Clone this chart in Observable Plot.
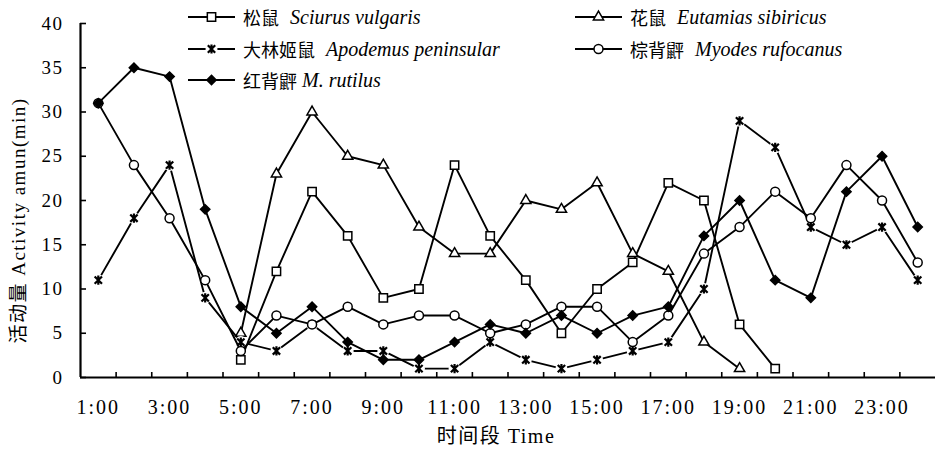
<!DOCTYPE html>
<html><head><meta charset="utf-8">
<script src="https://cdn.jsdelivr.net/npm/d3@7"></script>
<script src="https://cdn.jsdelivr.net/npm/@observablehq/plot@0.6"></script>
<style>
body{margin:0;background:#fff;}
#wrap{position:relative;width:935px;height:455px;}
.item{position:absolute;height:22px;display:flex;align-items:center;white-space:nowrap;color:#000;}
.item svg{display:block;}
.cn{font-family:"Noto Sans CJK SC";font-size:18px;margin-left:8px;}
.la{font-family:"Liberation Serif";font-style:italic;font-size:20px;}
g[aria-label="x-axis tick label"] text{letter-spacing:2px;}
g[aria-label="y-axis tick label"] text{letter-spacing:1.5px;}
.ttl{letter-spacing:1.5px;}
</style></head>
<body><div id="wrap"></div>
<script>
// ---- data ----
const hours = [1,2,3,4,5,6,7,8,9,10,11,12,13,14,15,16,17,18,19,20,21,22,23,24];
const sciurus   = [null,null,null,null,2,12,21,16,9,10,24,16,11,5,10,13,22,20,6,1,null,null,null,null];
const eutamias  = [null,null,null,null,5,23,30,25,24,17,14,14,20,19,22,14,12,4,1,null,null,null,null,null];
const apodemus  = [11,18,24,9,4,3,6,3,3,1,1,4,2,1,2,3,4,10,29,26,17,15,17,11];
const rufocanus = [31,24,18,11,3,7,6,8,6,7,7,5,6,8,8,4,7,14,17,21,18,24,20,13];
const rutilus   = [31,35,34,19,8,5,8,4,2,2,4,6,5,7,5,7,8,16,20,11,9,21,25,17];
const yTicks = [0,5,10,15,20,25,30,35,40];
const xLabelTicks = [1,3,5,7,9,11,13,15,17,19,21,23];
const xMarkTicks = [1.5,2.5,3.5,4.5,5.5,6.5,7.5,8.5,9.5,10.5,11.5,12.5,13.5,14.5,15.5,16.5,17.5,18.5,19.5,20.5,21.5,22.5,23.5];
const xTitle = "时间段 Time";
const yTitle = "活动量 Activity amun(min)";

// Excel-like star marker: X plus vertical bar
const star = {draw(ctx, size){const r=Math.sqrt(size/Math.PI);const d=r*0.8;
  ctx.moveTo(-d,-d);ctx.lineTo(d,d);ctx.moveTo(d,-d);ctx.lineTo(-d,d);ctx.moveTo(0,-r);ctx.lineTo(0,r);}};

const seriesDefs = [
  {cn:"松鼠", la:"Sciurus vulgaris", vals:sciurus, symbol:"square", r:4.7, fill:"#fff", gap:11, sw:1.5},
  {cn:"花鼠", la:"Eutamias sibiricus", vals:eutamias, symbol:"triangle", r:3.8, fill:"#fff", gap:11, sw:1.5},
  {cn:"大林姬鼠", la:"Apodemus peninsular", vals:apodemus, symbol:star, r:4.6, fill:"none", gap:11, halo:true, sw:2.2},
  {cn:"棕背䶄", la:"Myodes rufocanus", vals:rufocanus, symbol:"circle", r:4.5, fill:"#fff", gap:11, sw:1.5},
  {cn:"红背䶄", la:"M. rutilus", vals:rutilus, symbol:"diamond2", r:4.2, fill:"#000", gap:5, sw:1.5}
];

const marks = [];
seriesDefs.forEach(s => {
  const pts = hours.map((h,i)=>({hour:h, value:s.vals[i]})).filter(d=>d.value!=null);
  marks.push(Plot.line(pts,{x:"hour",y:"value",stroke:"#000",strokeWidth:1.9}));
  if (s.halo) marks.push(Plot.dot(pts,{x:"hour",y:"value",r:6,fill:"#fff",stroke:"none"}));
  marks.push(Plot.dot(pts,{x:"hour",y:"value",symbol:s.symbol,r:s.r,fill:s.fill,stroke:"#000",strokeWidth:s.sw}));
});

const plot = Plot.plot({
  width:935, height:455,
  marginLeft:80, marginRight:0, marginTop:23, marginBottom:78,
  style:{fontFamily:'"Liberation Serif","Noto Sans CJK SC",serif', background:"#fff", color:"#000", overflow:"visible"},
  x:{domain:[0.5,24.5]},
  y:{domain:[0,40]},
  marks:[
    Plot.axisY({ticks:yTicks, tickSize:0, tickPadding:17, fontSize:19, label:null}),
    Plot.axisY({ticks:yTicks, tickSize:-6, tickFormat:()=>"", label:null, strokeWidth:1.6}),
    Plot.axisX({ticks:xLabelTicks, tickSize:0, tickPadding:22, fontSize:20, tickFormat:d=>d+":00", label:null}),
    Plot.axisX({ticks:xMarkTicks, tickSize:-5, tickFormat:()=>"", label:null, strokeWidth:1.6}),
    Plot.ruleY([0],{strokeWidth:2.2}),
    Plot.ruleX([0.5],{strokeWidth:2.2}),
    Plot.text([xTitle],{frameAnchor:"bottom", textAnchor:"middle", dx:-12, dy:65, fontSize:20, className:"ttl"}),
    Plot.text([yTitle],{frameAnchor:"left", textAnchor:"middle", rotate:-90, dx:-62, dy:20, fontSize:19, className:"ttl"}),
    ...marks
  ]
});
const wrap = document.getElementById("wrap");
wrap.appendChild(plot);

// ---- legend (HTML overlay) ----
const cols = [188, 575];
const rows = [17, 49, 80];
const order = [[0,0],[1,0],[0,1],[1,1],[0,2]]; // [col,row] per series
function swatch(s){
  const svg = d3.create("svg").attr("width",47).attr("height",16);
  svg.append("line").attr("x1",0).attr("x2",47).attr("y1",8).attr("y2",8).attr("stroke","#000").attr("stroke-width",1.9);
  const sym = typeof s.symbol === "string" ? {square:d3.symbolSquare,triangle:d3.symbolTriangle,circle:d3.symbolCircle,diamond2:d3.symbolDiamond2}[s.symbol] : s.symbol;
  if (s.halo) svg.append("circle").attr("cx",23.5).attr("cy",8).attr("r",6).attr("fill","#fff");
  svg.append("path").attr("d",d3.symbol(sym, Math.PI*s.r*s.r)()).attr("transform","translate(23.5,8)")
    .attr("fill",s.fill).attr("stroke","#000").attr("stroke-width",s.sw);
  return svg.node();
}
seriesDefs.forEach((s,i)=>{
  const [c,r] = order[i];
  const div = document.createElement("div");
  div.className = "item";
  div.style.left = cols[c]+"px";
  div.style.top = (rows[r]-11)+"px";
  div.appendChild(swatch(s));
  const cn = document.createElement("span"); cn.className="cn"; cn.textContent=s.cn;
  const la = document.createElement("span"); la.className="la"; la.textContent=s.la; la.style.marginLeft=s.gap+"px";
  div.appendChild(cn); div.appendChild(la);
  wrap.appendChild(div);
});
</script>
</body></html>
